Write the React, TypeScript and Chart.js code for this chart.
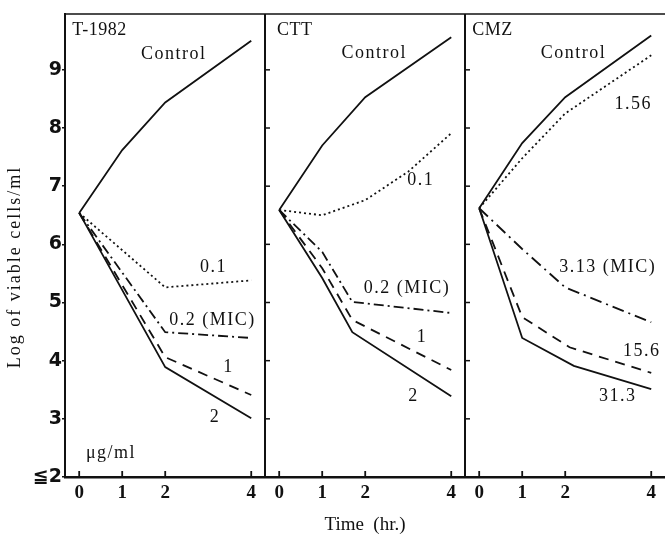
import { useEffect, useRef } from 'react';
import { Chart, registerables } from 'chart.js';

Chart.register(...registerables);

// Axis ticks
const HOUR_TICKS = [0, 1, 2, 4];
const LOG_TICKS = [2, 3, 4, 5, 6, 7, 8, 9];
const PANEL_NAMES = ['T-1982', 'CTT', 'CMZ'];

// T-1982 (µg/ml)
const t1982ControlHours = [0, 1, 2, 4];
const t1982Control = [6.54, 7.62, 8.44, 9.5];
const t1982DoseHours = [0, 2, 4];
const t1982Dose01 = [6.54, 5.26, 5.38];
const t1982Dose02 = [6.54, 4.49, 4.39];
const t1982Dose1 = [6.54, 4.06, 3.41];
const t1982Dose2 = [6.54, 3.89, 3.01];

// CTT (µg/ml)
const cttControlHours = [0, 1, 2, 4];
const cttControl = [6.59, 7.7, 8.53, 9.56];
const cttDose01Hours = [0, 1, 2, 3, 4];
const cttDose01 = [6.59, 6.5, 6.76, 7.25, 7.91];
const cttKillHours = [0, 1, 1.7, 4];
const cttDose02 = [6.59, 5.87, 5.01, 4.82];
const cttDose1 = [6.59, 5.59, 4.7, 3.84];
const cttDose2 = [6.59, 5.42, 4.49, 3.39];

// CMZ (µg/ml)
const cmzHours = [0, 1, 2, 4];
const cmzControl = [6.62, 7.74, 8.53, 9.59];
const cmzDose156 = [6.62, 7.48, 8.25, 9.25];
const cmzDose313 = [6.62, 5.92, 5.26, 4.66];
const cmzDose156kHours = [0, 1, 2.1, 4];
const cmzDose156k = [6.62, 4.75, 4.23, 3.79];
const cmzDose313kHours = [0, 1, 2.2, 4];
const cmzDose313k = [6.62, 4.39, 3.91, 3.51];

// Curve labels: panel, hour, log value, text
const CURVE_LABELS: [number, number, number, string][] = [
  [0, 2.2, 9.26, 'Control'],
  [0, 3.12, 5.61, '0.1'],
  [0, 3.1, 4.7, '0.2 (MIC)'],
  [0, 3.47, 3.89, '1'],
  [0, 3.16, 3.03, '2'],
  [1, 2.21, 9.28, 'Control'],
  [1, 3.29, 7.1, '0.1'],
  [1, 2.97, 5.25, '0.2 (MIC)'],
  [1, 3.32, 4.41, '1'],
  [1, 3.12, 3.38, '2'],
  [2, 2.19, 9.28, 'Control'],
  [2, 3.58, 8.41, '1.56'],
  [2, 2.99, 5.61, '3.13 (MIC)'],
  [2, 3.78, 4.16, '15.6'],
  [2, 3.22, 3.39, '31.3'],
];
const UNIT_LABEL: [number, number, number, string] = [0, 0.74, 2.41, 'μg/ml'];
const TITLE_POS: [number, number][] = [[-0.16, 9.68], [-0.05, 9.68], [-0.16, 9.68]];

// Panel geometry in hour units
const X_START = -0.33;
const PANEL_SPAN = 4.65;

const INK = '#111111';
const SOLID: number[] = [];
const DOTTED = [2, 3];
const DASHED = [10, 7];
const DASH_DOT = [10, 4, 2, 4];
const LONG_DASH_DOT = [12, 5, 2, 5];

type Series = { panel: number; hours: number[]; values: number[]; dash: number[] };

const SERIES: Series[] = [
  { panel: 0, hours: t1982ControlHours, values: t1982Control, dash: SOLID },
  { panel: 0, hours: t1982DoseHours, values: t1982Dose01, dash: DOTTED },
  { panel: 0, hours: t1982DoseHours, values: t1982Dose02, dash: DASH_DOT },
  { panel: 0, hours: t1982DoseHours, values: t1982Dose1, dash: DASHED },
  { panel: 0, hours: t1982DoseHours, values: t1982Dose2, dash: SOLID },
  { panel: 1, hours: cttControlHours, values: cttControl, dash: SOLID },
  { panel: 1, hours: cttDose01Hours, values: cttDose01, dash: DOTTED },
  { panel: 1, hours: cttKillHours, values: cttDose02, dash: DASH_DOT },
  { panel: 1, hours: cttKillHours, values: cttDose1, dash: DASHED },
  { panel: 1, hours: cttKillHours, values: cttDose2, dash: SOLID },
  { panel: 2, hours: cmzHours, values: cmzControl, dash: SOLID },
  { panel: 2, hours: cmzHours, values: cmzDose156, dash: DOTTED },
  { panel: 2, hours: cmzHours, values: cmzDose313, dash: LONG_DASH_DOT },
  { panel: 2, hours: cmzDose156kHours, values: cmzDose156k, dash: DASHED },
  { panel: 2, hours: cmzDose313kHours, values: cmzDose313k, dash: SOLID },
];

const panelX = (panel: number, hour: number) => panel * PANEL_SPAN + hour;

const framePlugin = {
  id: 'panelFrame',
  afterDraw(chart: any) {
    const { ctx, chartArea } = chart;
    const xs = chart.scales.x;
    const ys = chart.scales.y;
    const { left, right, top, bottom } = chartArea;
    ctx.save();
    ctx.strokeStyle = INK;
    ctx.lineCap = 'butt';

    // top edge
    ctx.lineWidth = 1.5;
    ctx.beginPath();
    ctx.moveTo(left, top);
    ctx.lineTo(right, top);
    ctx.stroke();

    // panel separators with inward ticks
    for (let p = 1; p < PANEL_NAMES.length; p++) {
      const sx = xs.getPixelForValue(X_START + p * PANEL_SPAN);
      ctx.lineWidth = 2;
      ctx.beginPath();
      ctx.moveTo(sx, top);
      ctx.lineTo(sx, bottom);
      ctx.stroke();
      ctx.lineWidth = 1.5;
      for (const v of LOG_TICKS) {
        if (v === 2) continue;
        const py = ys.getPixelForValue(v);
        ctx.beginPath();
        ctx.moveTo(sx, py);
        ctx.lineTo(sx + 5, py);
        ctx.stroke();
      }
    }

    // inward hour ticks
    ctx.lineWidth = 1.8;
    for (let p = 0; p < PANEL_NAMES.length; p++) {
      for (const h of HOUR_TICKS) {
        const px = xs.getPixelForValue(panelX(p, h));
        ctx.beginPath();
        ctx.moveTo(px, bottom);
        ctx.lineTo(px, bottom - 6);
        ctx.stroke();
      }
    }

    ctx.fillStyle = INK;
    ctx.textBaseline = 'middle';

    // panel titles
    ctx.font = '18px "Liberation Serif"';
    ctx.letterSpacing = '0.5px';
    ctx.textAlign = 'left';
    PANEL_NAMES.forEach((name, p) => {
      const [h, v] = TITLE_POS[p];
      ctx.fillText(name, xs.getPixelForValue(panelX(p, h)), ys.getPixelForValue(v));
    });

    // curve labels
    ctx.textAlign = 'center';
    ctx.font = '18px "Liberation Serif"';
    ctx.letterSpacing = '1.5px';
    for (const [p, h, v, text] of [...CURVE_LABELS, UNIT_LABEL]) {
      ctx.fillText(text, xs.getPixelForValue(panelX(p, h)), ys.getPixelForValue(v));
    }

    // vertical axis title
    ctx.save();
    ctx.font = '18px "Liberation Serif"';
    ctx.letterSpacing = '2px';
    ctx.translate(15, 267);
    ctx.rotate(-Math.PI / 2);
    ctx.fillText('Log of viable cells/ml', 0, 0);
    ctx.restore();

    ctx.restore();
  },
};

export default function App() {
  const canvasRef = useRef<HTMLCanvasElement | null>(null);

  useEffect(() => {
    const canvas = canvasRef.current;
    if (!canvas) return;
    const datasets = SERIES.map((s) => ({
      data: s.hours.map((h, i) => ({ x: panelX(s.panel, h), y: s.values[i] })),
      borderColor: INK,
      borderWidth: 1.8,
      borderDash: s.dash,
      pointRadius: 0,
      tension: 0,
      fill: false,
    }));

    const chart = new Chart(canvas, {
      type: 'line',
      data: { datasets },
      options: {
        animation: false,
        responsive: false,
        devicePixelRatio: 1,
        layout: { padding: { top: 14, left: 0, right: 0, bottom: 0 } },
        plugins: {
          legend: { display: false },
          tooltip: { enabled: false },
        },
        scales: {
          x: {
            type: 'linear',
            min: X_START,
            max: X_START + PANEL_SPAN * PANEL_NAMES.length,
            afterBuildTicks: (scale: any) => {
              scale.ticks = PANEL_NAMES.flatMap((_, p) =>
                HOUR_TICKS.map((h) => ({ value: panelX(p, h) }))
              );
            },
            afterFit: (scale: any) => {
              scale.height = 59;
            },
            grid: { display: false, drawTicks: false },
            border: { display: true, color: INK, width: 2.5 },
            ticks: {
              autoSkip: false,
              maxRotation: 0,
              padding: 5,
              color: INK,
              font: { family: '"Liberation Serif"', size: 19, weight: 'bold' },
              callback: (value: any) => {
                const v = Number(value);
                const p = Math.floor((v - X_START) / PANEL_SPAN);
                return String(Math.round((v - p * PANEL_SPAN) * 100) / 100);
              },
            },
            title: {
              display: true,
              text: 'Time  (hr.)',
              color: INK,
              padding: { top: 0, bottom: 0 },
              font: { family: '"Liberation Serif"', size: 19 },
            },
          },
          y: {
            type: 'linear',
            min: 2,
            max: 9.96,
            afterBuildTicks: (scale: any) => {
              scale.ticks = LOG_TICKS.map((v) => ({ value: v }));
            },
            afterFit: (scale: any) => {
              scale.width = 65;
            },
            grid: {
              drawOnChartArea: false,
              drawTicks: true,
              tickLength: 3,
              color: INK,
              lineWidth: 1.5,
            },
            border: { display: true, color: INK, width: 2 },
            ticks: {
              padding: 0,
              color: INK,
              font: { family: '"DejaVu Sans"', size: 19, weight: 'bold' },
              callback: (value: any) => (Number(value) === 2 ? '≦2' : String(value)),
            },
          },
        },
      },
      plugins: [framePlugin],
    });

    return () => chart.destroy();
  }, []);

  return (
    <div style={{ position: 'fixed', left: 0, top: 0, width: 665, height: 536, background: '#fff' }}>
      <canvas ref={canvasRef} width={665} height={536} />
    </div>
  );
}
